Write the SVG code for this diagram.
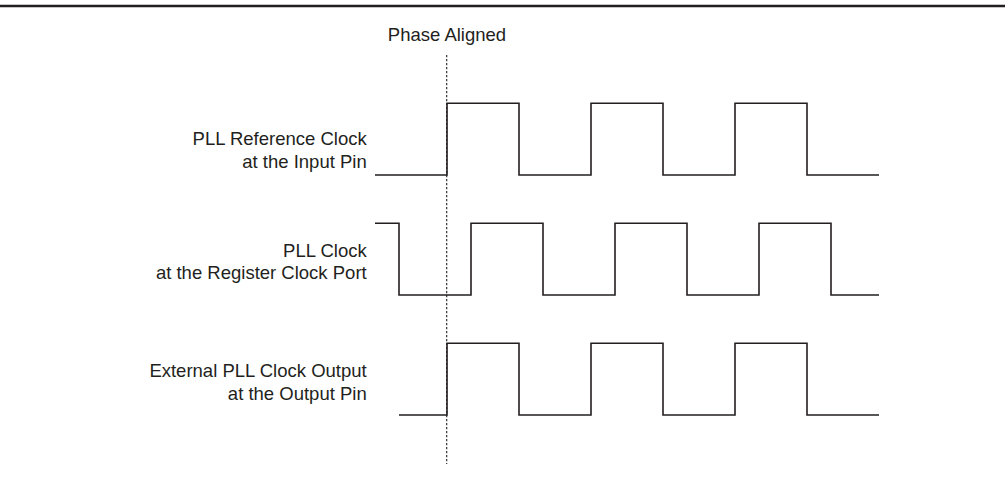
<svg xmlns="http://www.w3.org/2000/svg" width="1005" height="479" viewBox="0 0 1005 479">
<style>
.t{font-family:"Liberation Sans",Arial,sans-serif;font-size:18.5px;fill:#231f20}
.r{text-anchor:end}
.w{fill:none;stroke:#231f20;stroke-width:1.6;stroke-linejoin:miter}
</style>
<rect x="0" y="0" width="1005" height="479" fill="#ffffff"/>
<line x1="0" y1="6" x2="1005" y2="6" stroke="#231f20" stroke-width="2.5"/>
<g id="phase-marker">
<text class="t" x="447" y="40.7" text-anchor="middle">Phase Aligned</text>
<line x1="446.7" y1="55" x2="446.7" y2="464" stroke="#231f20" stroke-width="1.1" stroke-dasharray="2.2 1.8"/>
</g>
<g id="label-ref">
<text class="t r" x="366.7" y="145">PLL Reference Clock</text>
<text class="t r" x="366.7" y="168.3">at the Input Pin</text>
</g>
<g id="label-pll">
<text class="t r" x="366.7" y="256.7">PLL Clock</text>
<text class="t r" x="366.7" y="279.3">at the Register Clock Port</text>
</g>
<g id="label-ext">
<text class="t r" x="366.7" y="376.7">External PLL Clock Output</text>
<text class="t r" x="366.7" y="400">at the Output Pin</text>
</g>
<g id="waveforms">
<polyline class="w" points="375,175 447,175 447,103.3 519,103.3 519,175 591,175 591,103.3 663,103.3 663,175 735,175 735,103.3 807,103.3 807,175 879,175"/>
<polyline class="w" points="375,223.3 399,223.3 399,295 471,295 471,223.3 543,223.3 543,295 615,295 615,223.3 687,223.3 687,295 759,295 759,223.3 831,223.3 831,295 879,295"/>
<polyline class="w" points="399,415 447,415 447,343.3 519,343.3 519,415 591,415 591,343.3 663,343.3 663,415 735,415 735,343.3 807,343.3 807,415 879,415"/>
</g>
</svg>
